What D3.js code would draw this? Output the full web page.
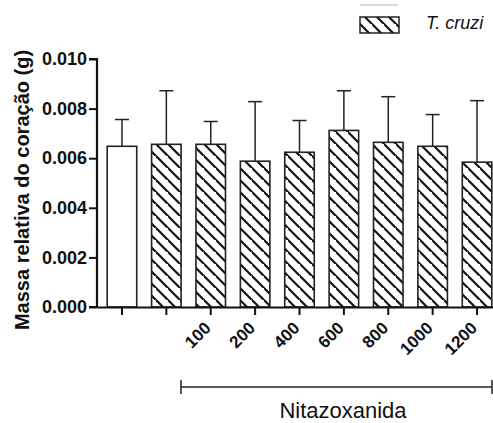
<!DOCTYPE html>
<html>
<head>
<meta charset="utf-8">
<script src="https://cdn.jsdelivr.net/npm/d3@7"></script>
<style>
  body { margin: 0; background: #fff; }
  svg { display: block; font-family: "Liberation Sans", Arial, sans-serif; }
</style>
</head>
<body>
<div id="chart"></div>
<script>
'use strict';

// values
var groups = ['ctrl', 'tc', '100', '200', '400', '600', '800', '1000', '1200'];
var tickLabels = ['', '', '100', '200', '400', '600', '800', '1000', '1200'];
var means = [0.00648, 0.00656, 0.00656, 0.00588, 0.00624, 0.00712, 0.00664, 0.00648, 0.00584];
var upper = [0.00756, 0.00872, 0.00748, 0.00828, 0.00752, 0.00872, 0.00848, 0.00776, 0.00832];
var hatched = [false, true, true, true, true, true, true, true, true];
var yTicks = [0, 0.002, 0.004, 0.006, 0.008, 0.010];

var width = 493,
  height = 423;

var svg = d3.select('#chart').append('svg')
  .attr('width', width)
  .attr('height', height);

// hatch pattern (\ direction)
var defs = svg.append('defs');
var pat = defs.append('pattern')
  .attr('id', 'hatch')
  .attr('patternUnits', 'userSpaceOnUse')
  .attr('width', 12)
  .attr('height', 12);
pat.append('path')
  .attr('d', 'M-3,-3L15,15M-9,3L3,15M9,-9L21,3')
  .attr('stroke', '#111')
  .attr('stroke-width', 2.2);

var x = d3.scaleBand()
  .domain(groups)
  .range([97, 502])
  .paddingInner(0.335)
  .paddingOuter(0.23);

var y = d3.scaleLinear()
  .domain([0, 0.010])
  .range([307, 59]);

// bars
var bars = svg.append('g');
bars.selectAll('rect.bar')
  .data(groups)
  .enter().append('rect')
  .attr('class', 'bar')
  .attr('x', function (d) { return x(d); })
  .attr('y', function (d, i) { return y(means[i]); })
  .attr('width', x.bandwidth())
  .attr('height', function (d, i) { return y(0) - y(means[i]); })
  .attr('fill', function (d, i) { return hatched[i] ? 'url(#hatch)' : '#fff'; })
  .attr('stroke', '#222')
  .attr('stroke-width', 1.6);

// error bars (upper only)
var err = svg.append('g').attr('stroke', '#222').attr('stroke-width', 1.5);
err.selectAll('line.whisk')
  .data(groups)
  .enter().append('line')
  .attr('x1', function (d) { return x(d) + x.bandwidth() / 2; })
  .attr('x2', function (d) { return x(d) + x.bandwidth() / 2; })
  .attr('y1', function (d, i) { return y(means[i]); })
  .attr('y2', function (d, i) { return y(upper[i]); });
err.selectAll('line.cap')
  .data(groups)
  .enter().append('line')
  .attr('x1', function (d) { return x(d) + x.bandwidth() / 2 - 7; })
  .attr('x2', function (d) { return x(d) + x.bandwidth() / 2 + 7; })
  .attr('y1', function (d, i) { return y(upper[i]); })
  .attr('y2', function (d, i) { return y(upper[i]); });

// y axis
var yAxis = svg.append('g')
  .attr('transform', 'translate(97,0)')
  .call(d3.axisLeft(y).tickValues(yTicks).tickFormat(d3.format('.3f')).tickSize(8).tickPadding(2));
yAxis.select('.domain').attr('stroke', '#111').attr('stroke-width', 2.2)
  .attr('d', 'M-8,' + y(0.010) + 'H0V' + y(0) + 'H-8');
yAxis.selectAll('.tick line').attr('stroke', '#111').attr('stroke-width', 2);
yAxis.selectAll('.tick text')
  .attr('fill', '#111')
  .style('font-size', '18px')
  .style('font-weight', 'bold');

// x axis
var xAxis = svg.append('g')
  .attr('transform', 'translate(0,' + y(0) + ')')
  .call(d3.axisBottom(x).tickFormat(function (d, i) { return tickLabels[i]; }).tickSize(8).tickSizeOuter(0));
xAxis.select('.domain').attr('stroke', '#111').attr('stroke-width', 2.2);
xAxis.selectAll('.tick line').attr('stroke', '#111').attr('stroke-width', 2);
xAxis.selectAll('.tick text')
  .attr('fill', '#111')
  .style('font-size', '17px')
  .style('font-weight', 'bold')
  .attr('text-anchor', 'end')
  .attr('dy', null)
  .attr('x', 0)
  .attr('y', 0)
  .attr('dominant-baseline', 'middle')
  .attr('transform', 'translate(-2,19) rotate(-45)');

// y label
svg.append('text')
  .attr('transform', 'translate(29,190) rotate(-90)')
  .attr('text-anchor', 'middle')
  .style('font-size', '20px')
  .style('font-weight', 'bold')
  .attr('fill', '#111')
  .text('Massa relativa do coração (g)');

// bracket for Nitazoxanida
var bx1 = x('100') - 15, bx2 = 492, by = 387;
var br = svg.append('g').attr('stroke', '#222').attr('stroke-width', 1.5);
br.append('line').attr('x1', bx1).attr('x2', bx2).attr('y1', by).attr('y2', by);
br.append('line').attr('x1', bx1).attr('x2', bx1).attr('y1', by - 7).attr('y2', by + 7);
br.append('line').attr('x1', bx2).attr('x2', bx2).attr('y1', by - 7).attr('y2', by + 7);
svg.append('text')
  .attr('x', 343)
  .attr('y', 418)
  .attr('text-anchor', 'middle')
  .style('font-size', '22px')
  .attr('fill', '#111')
  .text('Nitazoxanida');

// legend
svg.append('line')
  .attr('x1', 360).attr('x2', 398).attr('y1', 5).attr('y2', 5)
  .attr('stroke', '#ccc').attr('stroke-width', 1.5);
svg.append('rect')
  .attr('x', 360).attr('y', 17).attr('width', 39).attr('height', 16)
  .attr('fill', 'url(#hatch)')
  .attr('stroke', '#222').attr('stroke-width', 1.5);
svg.append('text')
  .attr('x', 426).attr('y', 29)
  .style('font-size', '18px')
  .style('font-style', 'italic')
  .attr('fill', '#111')
  .text('T. cruzi');
</script>
</body>
</html>
